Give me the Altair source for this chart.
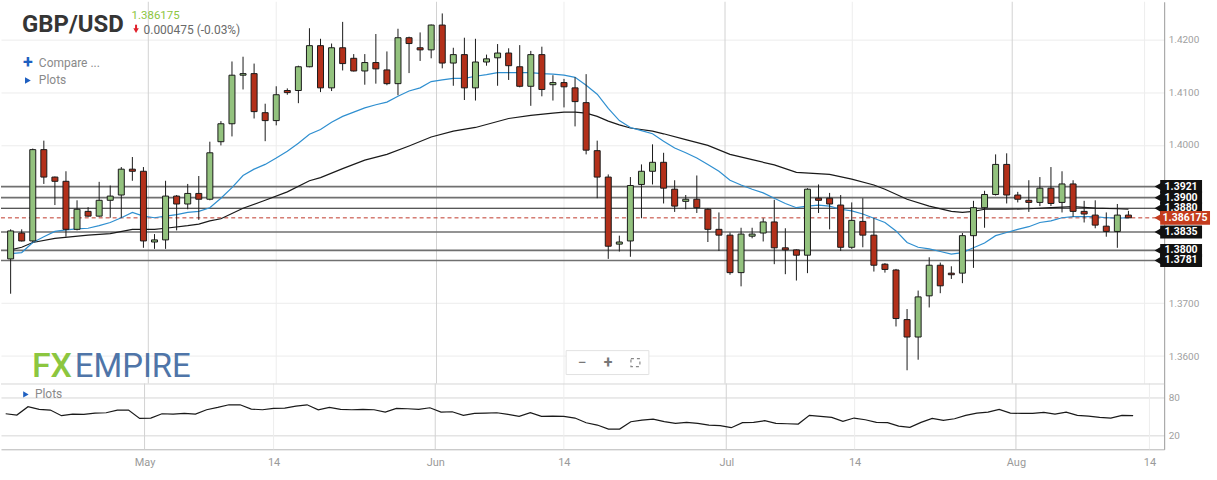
import altair as alt
import pandas as pd

# ---------------- data ----------------
opens = [1.3784, 1.3833, 1.3818, 1.3991, 1.3939, 1.3931, 1.3840, 1.3874, 1.3865, 1.3895,
         1.3905, 1.3954, 1.3950, 1.3816, 1.3820, 1.3903, 1.3888, 1.3908, 1.3897, 1.4006,
         1.4040, 1.4132, 1.4135, 1.4061, 1.4046, 1.4103, 1.4103, 1.4148, 1.4188, 1.4108,
         1.4184, 1.4164, 1.4140, 1.4156, 1.4142, 1.4116, 1.4203, 1.4184, 1.4180, 1.4227,
         1.4155, 1.4171, 1.4108, 1.4157, 1.4165, 1.4174, 1.4148, 1.4111, 1.4171, 1.4114,
         1.4118, 1.4108, 1.4080, 1.3989, 1.3939, 1.3812, 1.3818, 1.3925, 1.3950, 1.3967,
         1.3916, 1.3893, 1.3897, 1.3878, 1.3840, 1.3829, 1.3758, 1.3827, 1.3833, 1.3854,
         1.3805, 1.3801, 1.3791, 1.3899, 1.3899, 1.3886, 1.3806, 1.3855, 1.3829, 1.3774,
         1.3763, 1.3669, 1.3636, 1.3714, 1.3772, 1.3757, 1.3757, 1.3828, 1.3881, 1.3906,
         1.3963, 1.3905, 1.3895, 1.3891, 1.3918, 1.3891, 1.3926, 1.3874, 1.3867, 1.3846,
         1.3836, 1.3867]
highs = [1.3840, 1.3840, 1.3993, 1.4008, 1.3940, 1.3950, 1.3895, 1.3882, 1.3930, 1.3923,
         1.3958, 1.3977, 1.3958, 1.3831, 1.3932, 1.3905, 1.3926, 1.3941, 1.4006, 1.4045,
         1.4158, 1.4167, 1.4154, 1.4078, 1.4111, 1.4107, 1.4150, 1.4221, 1.4201, 1.4192,
         1.4233, 1.4172, 1.4172, 1.4210, 1.4177, 1.4220, 1.4205, 1.4213, 1.4228, 1.4249,
         1.4184, 1.4203, 1.4201, 1.4171, 1.4191, 1.4183, 1.4189, 1.4178, 1.4186, 1.4132,
         1.4125, 1.4128, 1.4134, 1.4008, 1.3944, 1.3828, 1.3939, 1.3963, 1.4001, 1.3985,
         1.3933, 1.3905, 1.3942, 1.3880, 1.3872, 1.3834, 1.3843, 1.3843, 1.3861, 1.3896,
         1.3842, 1.3802, 1.3918, 1.3925, 1.3909, 1.3905, 1.3891, 1.3899, 1.3861, 1.3776,
         1.3765, 1.3689, 1.3724, 1.3787, 1.3777, 1.3770, 1.3833, 1.3894, 1.3913, 1.3982,
         1.3984, 1.3911, 1.3933, 1.3939, 1.3958, 1.3950, 1.3933, 1.3894, 1.3895, 1.3872,
         1.3888, 1.3875]
lows = [1.3718, 1.3817, 1.3815, 1.3926, 1.3886, 1.3826, 1.3838, 1.3864, 1.3864, 1.3862,
        1.3862, 1.3932, 1.3805, 1.3803, 1.3803, 1.3838, 1.3878, 1.3858, 1.3895, 1.3999,
        1.4016, 1.4105, 1.4050, 1.4007, 1.4037, 1.4095, 1.4079, 1.4147, 1.4100, 1.4102,
        1.4141, 1.4139, 1.4114, 1.4116, 1.4113, 1.4094, 1.4136, 1.4159, 1.4164, 1.4145,
        1.4112, 1.4085, 1.4084, 1.4150, 1.4112, 1.4123, 1.4109, 1.4074, 1.4092, 1.4084,
        1.4071, 1.4035, 1.3982, 1.3899, 1.3784, 1.3798, 1.3788, 1.3861, 1.3925, 1.3889,
        1.3873, 1.3878, 1.3871, 1.3816, 1.3799, 1.3754, 1.3732, 1.3823, 1.3817, 1.3774,
        1.3755, 1.3743, 1.3757, 1.3871, 1.3840, 1.3799, 1.3803, 1.3806, 1.3760, 1.3758,
        1.3656, 1.3573, 1.3593, 1.3692, 1.3719, 1.3746, 1.3738, 1.3767, 1.3843, 1.3904,
        1.3889, 1.3891, 1.3873, 1.3884, 1.3884, 1.3872, 1.3864, 1.3853, 1.3842, 1.3826,
        1.3805, 1.3861]
closes = [1.3837, 1.3818, 1.3991, 1.3939, 1.3931, 1.3840, 1.3878, 1.3865, 1.3895, 1.3903,
          1.3954, 1.3950, 1.3818, 1.3820, 1.3903, 1.3888, 1.3908, 1.3897, 1.3985, 1.4040,
          1.4132, 1.4135, 1.4063, 1.4046, 1.4095, 1.4099, 1.4148, 1.4188, 1.4108, 1.4184,
          1.4154, 1.4140, 1.4156, 1.4144, 1.4116, 1.4203, 1.4192, 1.4180, 1.4227, 1.4155,
          1.4171, 1.4108, 1.4157, 1.4163, 1.4174, 1.4150, 1.4111, 1.4171, 1.4105, 1.4118,
          1.4110, 1.4082, 1.3990, 1.3939, 1.3808, 1.3816, 1.3923, 1.3950, 1.3967, 1.3918,
          1.3884, 1.3897, 1.3881, 1.3840, 1.3829, 1.3758, 1.3831, 1.3831, 1.3854, 1.3805,
          1.3801, 1.3791, 1.3916, 1.3895, 1.3888, 1.3806, 1.3857, 1.3829, 1.3772, 1.3764,
          1.3671, 1.3636, 1.3712, 1.3772, 1.3733, 1.3754, 1.3828, 1.3881, 1.3906, 1.3963,
          1.3905, 1.3897, 1.3891, 1.3918, 1.3889, 1.3926, 1.3874, 1.3869, 1.3848, 1.3836,
          1.3867, 1.38618]

fast_ma = [1.3794, 1.3796, 1.3815, 1.3826, 1.3836, 1.3839, 1.3841, 1.3842, 1.3847, 1.3853,
           1.3862, 1.3872, 1.3865, 1.3862, 1.3865, 1.3868, 1.3872, 1.3874, 1.3881, 1.3899,
           1.3919, 1.3942, 1.3954, 1.3963, 1.3975, 1.3988, 1.4003, 1.4020, 1.4029, 1.4043,
           1.4054, 1.4062, 1.4070, 1.4076, 1.4081, 1.4092, 1.4102, 1.4108, 1.4120, 1.4123,
           1.4126, 1.4126, 1.4130, 1.4133, 1.4137, 1.4137, 1.4137, 1.4137, 1.4135, 1.4134,
           1.4132, 1.4128, 1.4113, 1.4096, 1.4069, 1.4046, 1.4033, 1.4027, 1.4021, 1.4007,
           1.3994, 1.3985, 1.3975, 1.3963, 1.3950, 1.3933, 1.3924, 1.3916, 1.3909, 1.3899,
           1.3889, 1.3881, 1.3884, 1.3886, 1.3884, 1.3878, 1.3875, 1.3869, 1.3861, 1.3853,
           1.3837, 1.3815, 1.3806, 1.3803, 1.3798, 1.3793, 1.3796, 1.3805, 1.3814, 1.3828,
           1.3834, 1.3840, 1.3845, 1.3853, 1.3856, 1.3862, 1.3864, 1.3864, 1.3864, 1.3862,
           1.3861, 1.3862]

slow_idx = [0, 1, 2, 4, 7, 9, 11, 13, 14, 16, 17, 18, 19, 21, 23, 25, 27, 28, 30, 32,
            34, 36, 38, 40, 42, 45, 47, 49, 50, 51, 52, 53, 54, 55, 56, 58, 59, 61, 63, 65,
            67, 69, 71, 74, 76, 78, 79, 81, 83, 85, 86, 87, 88, 90, 92, 94, 96, 98, 100, 101]
slow_ma = [1.3801, 1.3806, 1.3815, 1.3823, 1.3829, 1.3832, 1.3840, 1.3840, 1.3842, 1.3847,
           1.3850, 1.3856, 1.3860, 1.3880, 1.3895, 1.3911, 1.3932, 1.3938, 1.3955, 1.3971,
           1.3982, 1.3998, 1.4015, 1.4026, 1.4033, 1.4050, 1.4056, 1.4060, 1.4062, 1.4062,
           1.4060, 1.4054, 1.4045, 1.4038, 1.4032, 1.4026, 1.4021, 1.4010, 1.3999, 1.3982,
           1.3972, 1.3962, 1.3948, 1.3944, 1.3935, 1.3924, 1.3916, 1.3897, 1.3884, 1.3874,
           1.3872, 1.3874, 1.3878, 1.3878, 1.3879, 1.3881, 1.3883, 1.3880, 1.3879, 1.3878]

osc = [54.2, 52.1, 65.3, 61.1, 60.0, 51.1, 53.7, 53.2, 55.3, 55.8,
       60.0, 60.0, 46.8, 47.4, 54.2, 53.7, 54.7, 53.7, 60.5, 64.2,
       68.4, 68.4, 61.6, 60.5, 62.6, 63.2, 66.3, 68.4, 60.5, 64.2,
       61.1, 60.5, 61.1, 60.5, 56.8, 62.6, 62.1, 61.1, 63.7, 56.8,
       57.4, 51.6, 54.7, 55.3, 55.8, 53.2, 50.0, 55.8, 50.0, 50.5,
       50.0, 47.4, 40.0, 36.3, 30.0, 30.0, 41.6, 44.2, 45.8, 41.6,
       38.9, 40.5, 38.9, 36.3, 35.3, 32.1, 40.0, 40.5, 43.2, 38.9,
       38.4, 37.9, 51.6, 50.0, 48.4, 42.1, 47.4, 44.7, 40.5, 40.0,
       34.7, 32.6, 40.5, 46.8, 43.7, 46.3, 51.6, 55.3, 56.8, 61.1,
       55.3, 54.7, 54.7, 56.3, 53.7, 56.8, 51.6, 50.5, 48.4, 47.4,
       51.6, 51.1]

tick_pos = [12.44, 24.0, 38.48, 50.0, 64.55, 76.05, 90.5, 102.46]
tick_labels = ["May", "14", "Jun", "14", "Jul", "14", "Aug", "14"]
tick_month = [True, False, True, False, True, False, True, False]

price_ticks = [1.36, 1.37, 1.40, 1.41, 1.42]
osc_ticks = [20, 80]

levels = [1.3880, 1.3800, 1.3921, 1.3900, 1.3835, 1.3781]
level_labels = ["1.3880", "1.3800", "1.3921", "1.3900", "1.3835", "1.3781"]
level_kind = ["thin", "thick", "thick", "thick", "thick", "thick"]
last_price = 1.386175
last_label = "1.386175"
change_text = "0.000475 (-0.03%)"

# ---------------- frames ----------------
n = len(opens)
candles = pd.DataFrame({
    "i": list(range(n)),
    "open": opens, "high": highs, "low": lows, "close": closes,
})
candles["lo"] = candles[["open", "close"]].min(axis=1)
candles["hi"] = candles[["open", "close"]].max(axis=1)
candles["dir"] = ["up" if c >= o else "down" for o, c in zip(opens, closes)]

fast_df = pd.DataFrame({"i": list(range(len(fast_ma))), "v": fast_ma})
slow_df = pd.DataFrame({"i": slow_idx, "v": slow_ma})
osc_df = pd.DataFrame({"i": list(range(len(osc))), "v": osc})
ticks_df = pd.DataFrame({"pos": tick_pos, "label": tick_labels, "month": tick_month})
levels_df = pd.DataFrame({"p": levels, "label": level_labels, "kind": level_kind,
                          "order": list(range(len(levels)))})
last_df = pd.DataFrame({"p": [last_price], "label": [last_label]})

W = 1167
H_MAIN = 383
H_OSC = 66
FONT = "Roboto"

xs = alt.Scale(domain=[-0.42, 103.78], nice=False, zero=False)
ys = alt.Scale(domain=[1.354792, 1.427113], nice=False, zero=False)
os_ = alt.Scale(domain=[-2.1, 102.1], nice=False, zero=False)

yaxis = alt.Axis(orient="right", values=price_ticks, format=".4f", grid=True,
                 gridColor="#ececec", gridWidth=1, ticks=False, domain=True,
                 domainColor="#9a9a9a", labelColor="#a0a0a0", labelFontSize=10,
                 labelFont=FONT, labelPadding=4, title=None)


def X(field):
    return alt.X(f"{field}:Q", scale=xs, axis=None, title=None)


def Y(field):
    return alt.Y(f"{field}:Q", scale=ys, axis=yaxis, title=None)


def txt(s, x, y, **kw):
    return alt.Chart(pd.DataFrame({"t": [s]})).mark_text(font=FONT, **kw).encode(
        x=alt.value(x), y=alt.value(y), text="t:N")


# vertical grid
vgrid_minor = alt.Chart(ticks_df).transform_filter("!datum.month").mark_rule(
    color="#ededed", strokeWidth=1).encode(x=X("pos"))
vgrid_major = alt.Chart(ticks_df).transform_filter("datum.month").mark_rule(
    color="#d2d2d2", strokeWidth=1).encode(x=X("pos"))

# level lines
lvl_thick = alt.Chart(levels_df).transform_filter("datum.kind == 'thick'").mark_rule(
    color="#707070", strokeWidth=1.7).encode(y=Y("p"), x=alt.value(0), x2=alt.value(1160))
lvl_thin = alt.Chart(levels_df).transform_filter("datum.kind == 'thin'").mark_rule(
    color="#1e1e1e", strokeWidth=1.1).encode(y=Y("p"), x=alt.value(0), x2=alt.value(1160))
last_line = alt.Chart(last_df).mark_rule(color="#c0392b", strokeWidth=1,
                                         strokeDash=[4, 3]).encode(
    y=Y("p"), x=alt.value(0), x2=alt.value(1160))

fast_line = alt.Chart(fast_df).mark_line(color="#2f8fd0", strokeWidth=1.2).encode(
    x=X("i"), y=Y("v"))
slow_line = alt.Chart(slow_df).mark_line(color="#1a1a1a", strokeWidth=1.2).encode(
    x=X("i"), y=Y("v"))

wicks = alt.Chart(candles).mark_rule(color="#1a1a1a", strokeWidth=1).encode(
    x=X("i"), y=Y("low"), y2="high:Q")
bodies = alt.Chart(candles).mark_bar(size=6, stroke="#1a1a1a", strokeWidth=1,
                                     orient="vertical").encode(
    x=X("i"), y=Y("lo"), y2="hi:Q",
    color=alt.Color("dir:N", scale=alt.Scale(domain=["up", "down"],
                                             range=["#93c27e", "#b3301a"]), legend=None))

# price tags
tag_body = alt.Chart(levels_df).mark_rule(color="#111111", strokeWidth=13,
                                          strokeCap="butt").encode(
    y=Y("p"), x=alt.value(1163), x2=alt.value(1205), order="order:Q")
tag_arrow = alt.Chart(levels_df).mark_point(shape="triangle-left", filled=True,
                                            color="#111111", size=70, opacity=1).encode(
    y=Y("p"), x=alt.value(1161))
tag_text = alt.Chart(levels_df).mark_text(color="white", fontSize=10.5, fontWeight="bold",
                                          font=FONT).encode(
    y=Y("p"), x=alt.value(1184), text="label:N")

last_body = alt.Chart(last_df).mark_rule(color="#c43c1e", strokeWidth=14,
                                         strokeCap="butt").encode(
    y=Y("p"), x=alt.value(1163), x2=alt.value(1213))
last_arrow = alt.Chart(last_df).mark_point(shape="triangle-left", filled=True,
                                           color="#c43c1e", size=80, opacity=1).encode(
    y=Y("p"), x=alt.value(1161))
last_text = alt.Chart(last_df).mark_text(color="white", fontSize=10.5, fontWeight="bold",
                                         font=FONT).encode(
    y=Y("p"), x=alt.value(1188), text="label:N")

# header & decorations
title_t = txt("GBP/USD", 21, 23, fontSize=24, fontWeight="bold", color="#353535",
              align="left", baseline="middle")
price_t = txt(last_label, 131, 14, fontSize=11.5, color="#8cc63f", align="left",
              baseline="middle")
arrow_stem = alt.Chart(pd.DataFrame({"a": [0]})).mark_rule(
    color="#e0202a", strokeWidth=2).encode(
    x=alt.value(135.5), y=alt.value(23), y2=alt.value(28))
arrow_head = alt.Chart(pd.DataFrame({"a": [0]})).mark_point(
    shape="triangle-down", filled=True, color="#e0202a", size=30, opacity=1).encode(
    x=alt.value(135.5), y=alt.value(29))
change_t = txt(change_text, 143, 28, fontSize=12, color="#6a6a6a", align="left",
               baseline="middle")
plus_t = txt("+", 27, 61, fontSize=18, color="#1e5fc0", fontWeight="bold",
             align="center", baseline="middle")
compare_t = txt("Compare ...", 38, 61, fontSize=12, color="#8a8a8a", align="left",
                baseline="middle")
plots_tri = alt.Chart(pd.DataFrame({"a": [0]})).mark_point(
    shape="triangle-right", filled=True, color="#1e5fc0", size=45, opacity=1).encode(
    x=alt.value(27), y=alt.value(79))
plots_t = txt("Plots", 38, 79, fontSize=12, color="#8a8a8a", align="left",
              baseline="middle")

logo_fx = txt("FX", 31, 366, fontSize=34, fontWeight=500, color="#8cc63f",
              align="left", baseline="middle")
logo_emp = txt("EMPIRE", 74, 366, fontSize=33, color="#4f75a8", align="left",
               baseline="middle")

zbox = alt.Chart(pd.DataFrame({"a": [0]})).mark_rect(
    fill="white", stroke="#e2e2e2", strokeWidth=1).encode(
    x=alt.value(567), x2=alt.value(650), y=alt.value(350), y2=alt.value(374))
zminus = txt("−", 583, 362, fontSize=16, color="#777777", align="center",
             baseline="middle")
zplus = txt("+", 609, 362, fontSize=16, color="#777777", align="center",
            baseline="middle", fontWeight="bold")
zicon = alt.Chart(pd.DataFrame({"a": [0]})).mark_rect(
    fill="white", stroke="#888888", strokeWidth=1.2, strokeDash=[3, 3]).encode(
    x=alt.value(632), x2=alt.value(641), y=alt.value(358), y2=alt.value(366))

main = alt.layer(
    vgrid_minor, vgrid_major,
    lvl_thick, lvl_thin, last_line,
    slow_line, fast_line,
    wicks, bodies,
    tag_body, tag_arrow, tag_text,
    last_body, last_arrow, last_text,
    title_t, price_t, arrow_stem, arrow_head, change_t,
    plus_t, compare_t, plots_tri, plots_t,
    logo_fx, logo_emp, zbox, zminus, zplus, zicon,
).properties(width=W, height=H_MAIN)

# ---------------- oscillator panel ----------------
label_expr = "".join(
    f"abs(datum.value - {p}) < 0.01 ? '{l}' : " for p, l in zip(tick_pos, tick_labels)
) + "''"

xaxis_osc = alt.Axis(values=tick_pos, labelExpr=label_expr, grid=False, ticks=False,
                     domain=True, domainColor="#b5b5b5", labelColor="#9a9a9a",
                     labelFontSize=11, labelFont=FONT, labelPadding=7, title=None)
oaxis = alt.Axis(orient="right", values=osc_ticks, grid=True, gridColor="#d6d6d6",
                 ticks=False, domain=True, domainColor="#9a9a9a", labelColor="#a0a0a0",
                 labelFontSize=10, labelFont=FONT, labelPadding=4, title=None)

o_vminor = alt.Chart(ticks_df).transform_filter("!datum.month").mark_rule(
    color="#ededed", strokeWidth=1).encode(
    x=alt.X("pos:Q", scale=xs, axis=xaxis_osc, title=None))
o_vmajor = alt.Chart(ticks_df).transform_filter("datum.month").mark_rule(
    color="#d2d2d2", strokeWidth=1).encode(
    x=alt.X("pos:Q", scale=xs, axis=xaxis_osc, title=None))
o_top = alt.Chart(pd.DataFrame({"a": [0]})).mark_rule(
    color="#d6d6d6", strokeWidth=1).encode(
    x=alt.value(0), x2=alt.value(W), y=alt.value(0.5))
o_line = alt.Chart(osc_df).mark_line(color="#1a1a1a", strokeWidth=1.2).encode(
    x=alt.X("i:Q", scale=xs, axis=xaxis_osc, title=None),
    y=alt.Y("v:Q", scale=os_, axis=oaxis, title=None))
o_tri = alt.Chart(pd.DataFrame({"a": [0]})).mark_point(
    shape="triangle-right", filled=True, color="#1e5fc0", size=40, opacity=1).encode(
    x=alt.value(25), y=alt.value(11))
o_txt = txt("Plots", 34, 11, fontSize=12, color="#8a8a8a", align="left",
            baseline="middle")

osc_panel = alt.layer(o_vminor, o_vmajor, o_top, o_line, o_tri, o_txt).properties(
    width=W, height=H_OSC)

chart = alt.vconcat(main, osc_panel, spacing=0).resolve_scale(
    y="independent").properties(
    padding={"left": 0, "top": 0, "right": 0, "bottom": 0}, bounds="flush",
    background="white").configure_view(stroke=None)

chart.save("out.html", embed_options={"renderer": "svg", "actions": False})
